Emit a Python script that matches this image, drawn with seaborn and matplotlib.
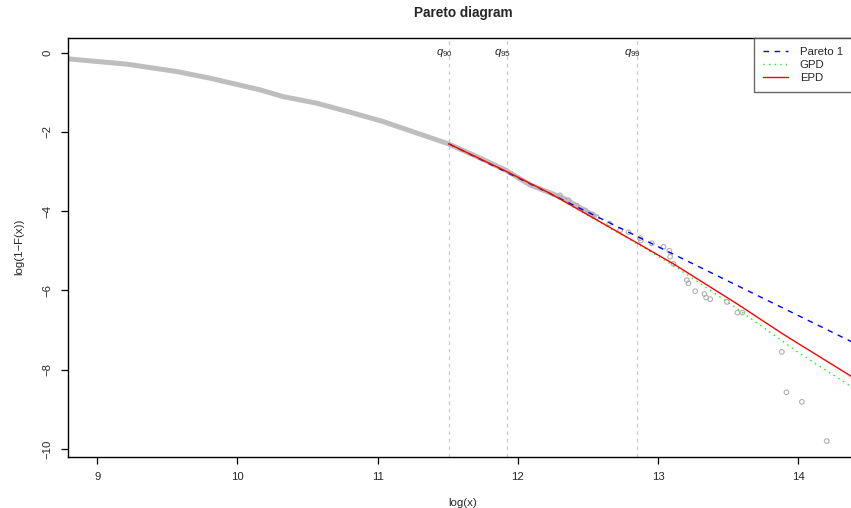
import matplotlib
matplotlib.use("Agg")
import matplotlib.pyplot as plt
import seaborn as sns
import pandas as pd

# ---- data ----
dense_logx = [8.795, 9.211, 9.568, 9.805, 10.162, 10.326, 10.566, 10.804, 11.041,
              11.280, 11.505, 11.731, 11.922, 12.088, 12.325, 12.563]
dense_logs = [-0.157, -0.29, -0.477, -0.644, -0.939, -1.109, -1.275, -1.503, -1.74,
              -2.03, -2.30, -2.66, -2.98, -3.34, -3.67, -4.15]

tail_logx = [12.30, 12.36, 12.42, 12.48, 12.53, 12.563, 12.653, 12.73, 12.789, 12.872, 12.877,
             12.956, 13.039, 13.081, 13.086, 13.11, 13.205, 13.217, 13.265,
             13.331, 13.343, 13.372, 13.491, 13.566, 13.602, 13.883, 13.916,
             14.026, 14.203]
tail_logs = [-3.60, -3.72, -3.86, -3.98, -4.08, -4.15, -4.31, -4.48, -4.53, -4.68, -4.74,
             -4.81, -4.90, -5.00, -5.15, -5.33, -5.74, -5.82, -6.02,
             -6.09, -6.18, -6.22, -6.29, -6.56, -6.56, -7.55, -8.57,
             -8.81, -9.80]

pareto_x = [11.507, 14.43]
pareto_y = [-2.30, -7.38]
gpd_x = [11.507, 11.92, 12.23, 12.85, 13.11, 13.37, 13.56, 14.01, 14.43]
gpd_y = [-2.30, -3.00, -3.56, -4.82, -5.37, -5.99, -6.45, -7.59, -8.54]
epd_x = [11.507, 11.92, 12.23, 12.85, 13.11, 13.56, 13.90, 14.43]
epd_y = [-2.30, -3.00, -3.55, -4.80, -5.33, -6.33, -7.12, -8.28]

quant_x = [11.507, 11.922, 12.85]
quant_lbl = [r"$q_{90}$", r"$q_{95}$", r"$q_{99}$"]

x_ticks = [9, 10, 11, 12, 13, 14]
y_ticks = [0, -2, -4, -6, -8, -10]

# ---- style ----
sns.set_theme(style="white")
plt.rcParams["font.family"] = ["Liberation Sans", "DejaVu Sans"]
plt.rcParams["mathtext.fontset"] = "custom"
plt.rcParams["mathtext.it"] = "Liberation Sans:italic"
plt.rcParams["mathtext.rm"] = "Liberation Sans"

FS = 8.2
fig = plt.figure(figsize=(8.51, 5.08), dpi=100)
left_px, right_px, top_px, bot_px = 67.8, 858.0, 38.0, 456.5
ax = fig.add_axes([left_px / 851, (508 - bot_px) / 508,
                   (right_px - left_px) / 851, (bot_px - top_px) / 508])

xmin = 8.79
xmax = xmin + (right_px - left_px) / 140.2
ax.set_xlim(xmin, xmax)
ax.set_ylim(-10.19, 0.37)

for q in quant_x:
    ax.axvline(q, color="#cccccc", lw=0.9, ls=(0, (3, 3)), zorder=1)

dense = pd.DataFrame({"x": dense_logx, "y": dense_logs})
tail = pd.DataFrame({"x": tail_logx, "y": tail_logs})
sns.lineplot(data=dense, x="x", y="y", ax=ax, color="#bebebe", lw=3.6,
             sort=False, zorder=2, solid_capstyle="butt")
sns.scatterplot(data=tail, x="x", y="y", ax=ax, marker="o", s=11,
                facecolor="none", edgecolor="#b0b0b0", linewidth=0.8, zorder=3)

sns.lineplot(x=pareto_x, y=pareto_y, ax=ax, color="blue", lw=1.0,
             dashes=False, ls=(0, (4, 4)), label="Pareto 1", zorder=4)
sns.lineplot(x=gpd_x, y=gpd_y, ax=ax, color="#00ff00", lw=1.0,
             ls=(0, (1, 3)), label="GPD", zorder=4)
sns.lineplot(x=epd_x, y=epd_y, ax=ax, color="red", lw=1.0,
             ls="-", label="EPD", zorder=5)

for q, t in zip(quant_x, quant_lbl):
    ax.text(q - 0.03, 0.0, t, ha="center", va="center", fontsize=FS, zorder=6)

ax.set_xticks(x_ticks)
ax.set_yticks(y_ticks)
ax.set_xticklabels([str(v) for v in x_ticks], fontsize=FS)
ax.set_yticklabels([str(v).replace("-", "\u2212") for v in y_ticks], fontsize=FS,
                   rotation=90, va="center")
ax.tick_params(axis="both", direction="out", length=5, width=0.9, color="black",
               bottom=True, left=True)
ax.tick_params(axis="x", pad=6)
ax.tick_params(axis="y", pad=6)
for s in ax.spines.values():
    s.set_color("black")
    s.set_linewidth(1.0)

ax.set_xlabel("log(x)", fontsize=FS, labelpad=12)
ax.set_ylabel("log(1\u2212F(x))", fontsize=FS, labelpad=13)
fig.text((left_px + right_px) / 2 / 851, 1 - 13.5 / 508, "Pareto diagram",
         ha="center", va="center", fontsize=9.8, fontweight="bold")

leg = ax.legend(loc="upper right", bbox_to_anchor=(1.0 - 6 / (right_px - left_px), 1.0),
                fontsize=FS, frameon=True, fancybox=False, borderaxespad=0.0,
                borderpad=0.8, handlelength=2.2, handletextpad=1.0, labelspacing=0.25)
leg.get_frame().set_edgecolor("#444444")
leg.get_frame().set_linewidth(1.0)

fig.savefig("out.png", dpi=100)
